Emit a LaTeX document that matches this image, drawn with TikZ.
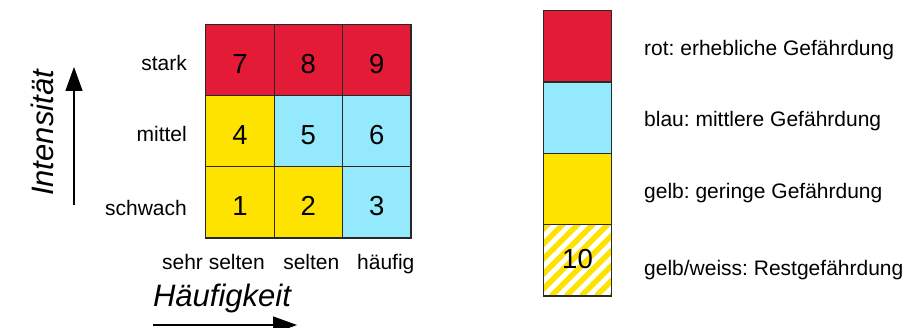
\documentclass[tikz,border=0pt]{standalone}
\usepackage{fontspec}
\setmainfont{Liberation Sans}
\frenchspacing
\usetikzlibrary{arrows.meta, positioning}
\definecolor{cRed}{RGB}{228,27,55}
\definecolor{cBlue}{RGB}{148,233,252}
\definecolor{cYellow}{RGB}{255,227,0}
\definecolor{cLine}{RGB}{40,40,40}
\tikzset{
    cell/.style     ={rectangle, minimum width=68.4pt, minimum height=71.2pt, inner sep=0pt, outer sep=0pt, draw=cLine, line width=1.2pt, text height=26pt, text depth=0pt, font=\fontsize{27.5}{31}\selectfont},
    legbox/.style   ={cell, minimum height=71.3pt, text height=20pt, text depth=4pt},
    hatched/.style  ={fill=white, path picture={
        \foreach \k in {-112,-97,...,84}
            \draw[cYellow, line width=5.5pt] ([xshift=\k pt]path picture bounding box.south west) -- ++(110,-110);}},
    rowlabel/.style ={anchor=base east, inner sep=0pt, font=\fontsize{21}{25}\selectfont},
    collabel/.style ={anchor=base, inner sep=0pt, font=\fontsize{21}{25}\selectfont},
    legtext/.style  ={anchor=base west, inner sep=0pt, font=\fontsize{21}{25}\selectfont},
    axistitle/.style={inner sep=0pt, font=\fontsize{31}{36}\selectfont\itshape},
    axisarrow/.style={-{Triangle[length=24pt, width=17pt]}, line width=1.4pt},
}

\begin{document}
\begin{tikzpicture}[x=1pt, y=-1pt]
    \useasboundingbox (0,0) rectangle (906,328);
    % matrix of cells
    \foreach \n/\x/\y/\col in {1/239.9/202.5/cYellow, 2/308.3/202.5/cYellow, 3/376.7/202.5/cBlue,
                               4/239.9/131.3/cYellow, 5/308.3/131.3/cBlue,   6/376.7/131.3/cBlue,
                               7/239.9/60.1/cRed,     8/308.3/60.1/cRed,     9/376.7/60.1/cRed}
        \node[cell, fill=\col] (c\n) at (\x,\y) {\n};
    \node[rowlabel] (stark)  at (187,71)  {stark};
    \node[rowlabel] (mittel) at (187,142) {mittel};
    \node[rowlabel] (schwach) at (187,216) {schwach};
    \node[collabel] (sehrselten) at (213.5,270) {sehr selten};
    \node[collabel] (selten) at (311.3,270) {selten};
    \node[collabel] (haeufig) at (385.8,270) {häufig};
    % axes
    \node[axistitle, rotate=90] (intensitaet) at (42,133) {Intensität};
    \coordinate (ylow) at (74,205);
    \coordinate (yhigh) at (74,67);
    \draw[axisarrow] (ylow) -- (yhigh);
    \node[axistitle] (haeufigkeit) at (222,298) {Häufigkeit};
    \coordinate (xlow) at (153,325);
    \coordinate (xhigh) at (297,325);
    \draw[axisarrow] (xlow) -- (xhigh);
    % legend
    \node[legbox, fill=cRed] (lred) at (577.5,46.4) {};
    \node[legbox, fill=cBlue, below=0pt of lred] (lblue) {};
    \node[legbox, fill=cYellow, below=0pt of lblue] (lyellow) {};
    \node[legbox, hatched, below=0pt of lyellow] (lhatch) {10};
    \node[legtext] (tred) at (644,55.5) {rot: erhebliche Gefährdung};
    \node[legtext] (tblue) at (644,127) {blau: mittlere Gefährdung};
    \node[legtext] (tyellow) at (644,198.5) {gelb: geringe Gefährdung};
    \node[legtext] (thatch) at (644,276) {gelb/weiss: Restgefährdung};
\end{tikzpicture}
\end{document}
